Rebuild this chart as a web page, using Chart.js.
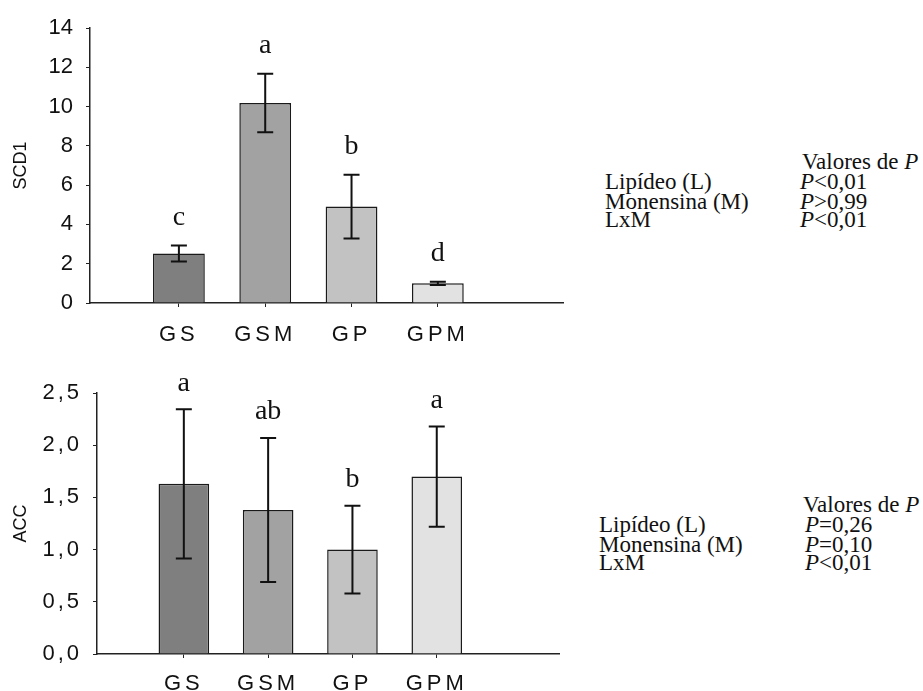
<!DOCTYPE html>
<html>
<head>
<meta charset="utf-8">
<script src="https://cdn.jsdelivr.net/npm/chart.js@4"></script>
<style>
  body { margin: 0; background: #fff; width: 923px; height: 691px; position: relative; overflow: hidden; }
  canvas { position: absolute; left: 0; }
  .pv { position: absolute; font-family: "Liberation Serif", "Times New Roman", serif; font-size: 23px; color: #111; line-height: 20px; white-space: nowrap; }
</style>
</head>
<body>
<canvas id="scdChart" width="580" height="345" style="top:0"></canvas>
<canvas id="accChart" width="580" height="345" style="top:346px"></canvas>

<div class="pv" style="left:802px;top:152px">Valores de <i>P</i></div>
<div class="pv" style="left:605px;top:172px">Lipídeo (L)</div>
<div class="pv" style="left:605px;top:192px">Monensina (M)</div>
<div class="pv" style="left:605px;top:210px">LxM</div>
<div class="pv" style="left:800px;top:172px"><i>P</i>&lt;0,01</div>
<div class="pv" style="left:800px;top:192px"><i>P</i>&gt;0,99</div>
<div class="pv" style="left:800px;top:210px"><i>P</i>&lt;0,01</div>

<div class="pv" style="left:803px;top:495px">Valores de <i>P</i></div>
<div class="pv" style="left:599px;top:515px">Lipídeo (L)</div>
<div class="pv" style="left:599px;top:535px">Monensina (M)</div>
<div class="pv" style="left:599px;top:553px">LxM</div>
<div class="pv" style="left:805px;top:515px"><i>P</i>=0,26</div>
<div class="pv" style="left:805px;top:535px"><i>P</i>=0,10</div>
<div class="pv" style="left:805px;top:553px"><i>P</i>&lt;0,01</div>

<script>
const groups = ['GS', 'GSM', 'GP', 'GPM'];
const barColors = ['#7f7f7f', '#a2a2a2', '#c2c2c2', '#e2e2e2'];

const scdMeans = [2.52, 10.18, 4.91, 1.0];
const scdErr = [0.41, 1.49, 1.62, 0.08];
const scdLetters = ['c', 'a', 'b', 'd'];

const accMeans = [1.63, 1.38, 1.00, 1.70];
const accErr = [0.715, 0.69, 0.42, 0.48];
const accLetters = ['a', 'ab', 'b', 'a'];

const axisColor = '#222';
const textColor = '#111';

// error bars + significance letters on top of each bar
const errorBars = {
    id: 'errorBars',
    afterDatasetsDraw(chart, args, opts) {
        const ctx = chart.ctx;
        const y = chart.scales.y;
        const meta = chart.getDatasetMeta(0);
        const data = chart.data.datasets[0].data;
        meta.data.forEach((bar, i) => {
            const v = data[i].y;
            const top = y.getPixelForValue(v + opts.err[i]);
            const bot = y.getPixelForValue(v - opts.err[i]);
            ctx.save();
            ctx.strokeStyle = '#111';
            ctx.lineWidth = 2;
            ctx.beginPath();
            ctx.moveTo(bar.x, top);
            ctx.lineTo(bar.x, bot);
            ctx.moveTo(bar.x - 8, top);
            ctx.lineTo(bar.x + 8, top);
            ctx.moveTo(bar.x - 8, bot);
            ctx.lineTo(bar.x + 8, bot);
            ctx.stroke();
            ctx.fillStyle = textColor;
            ctx.font = '28px "Liberation Serif", "Times New Roman", serif';
            ctx.textAlign = 'center';
            ctx.textBaseline = 'middle';
            ctx.fillText(opts.letters[i], bar.x, top - opts.gap);
            ctx.restore();
        });
    }
};

// wider letter spacing on tick labels, like the original figure
const spacedLabels = {
    id: 'spacedLabels',
    afterLayout(chart, args, opts) {
        Object.keys(opts.spacing || {}).forEach(id => {
            const s = chart.scales[id];
            if (s._spacedWrapped) return;
            const orig = s.drawLabels;
            s.drawLabels = function (area) {
                chart.ctx.save();
                chart.ctx.letterSpacing = opts.spacing[id];
                orig.call(this, area);
                chart.ctx.restore();
            };
            s._spacedWrapped = true;
        });
    }
};

function makeChart(canvasId, means, err, letters, cfg) {
    const ctx = document.getElementById(canvasId).getContext('2d');
    return new Chart(ctx, {
        type: 'bar',
        data: {
            datasets: [{
                data: means.map((v, i) => ({ x: i + 1, y: v })),
                backgroundColor: barColors,
                borderColor: '#1a1a1a',
                borderWidth: 1.5,
                categoryPercentage: 1,
                barPercentage: 0.6
            }]
        },
        options: {
            responsive: false,
            animation: false,
            devicePixelRatio: 1,
            layout: { padding: cfg.padding },
            plugins: {
                legend: { display: false },
                tooltip: { enabled: false },
                errorBars: { err: err, letters: letters, gap: cfg.letterGap },
                spacedLabels: { spacing: cfg.spacing }
            },
            scales: {
                x: {
                    type: 'linear',
                    min: -0.03,
                    max: 5.45,
                    offset: false,
                    afterBuildTicks: s => { s.ticks = groups.map((g, i) => ({ value: i + 1 })); },
                    afterFit: s => { s.height = cfg.xHeight; },
                    ticks: {
                        callback: v => groups[v - 1] || '',
                        autoSkip: false,
                        maxRotation: 0,
                        padding: cfg.xPad,
                        color: textColor,
                        font: { family: 'Liberation Sans', size: 22 }
                    },
                    grid: { drawOnChartArea: false, drawTicks: true, tickLength: 4, color: axisColor, offset: false },
                    border: { color: axisColor, width: 1.5 }
                },
                y: {
                    min: 0,
                    max: cfg.yMax,
                    afterFit: s => { s.width = cfg.yWidth; },
                    ticks: {
                        stepSize: cfg.yStep,
                        callback: cfg.yFormat,
                        padding: cfg.yPad,
                        color: textColor,
                        font: { family: 'Liberation Sans', size: 22 }
                    },
                    title: {
                        display: true,
                        text: cfg.yTitle,
                        color: textColor,
                        font: { family: 'Liberation Sans', size: 18 },
                        padding: { top: 10, bottom: 0 }
                    },
                    grid: { drawOnChartArea: false, drawTicks: true, tickLength: 4, color: axisColor },
                    border: { color: axisColor, width: 1.5 }
                }
            }
        },
        plugins: [errorBars, spacedLabels]
    });
}

makeChart('scdChart', scdMeans, scdErr, scdLetters, {
    padding: { top: 28, right: 17, left: 0, bottom: 0 },
    xHeight: 42, xPad: 15,
    yWidth: 90, yPad: 13,
    yMax: 14, yStep: 2,
    yFormat: v => String(v),
    yTitle: 'SCD1',
    letterGap: 28,
    spacing: { x: '4px' }
});

makeChart('accChart', accMeans, accErr, accLetters, {
    padding: { top: 47, right: 21, left: 0, bottom: 0 },
    xHeight: 37, xPad: 13,
    yWidth: 97, yPad: 11,
    yMax: 2.5, yStep: 0.5,
    yFormat: v => v.toFixed(1).replace('.', ','),
    yTitle: 'ACC',
    letterGap: 26,
    spacing: { x: '4px', y: '3px' }
});
</script>
</body>
</html>
